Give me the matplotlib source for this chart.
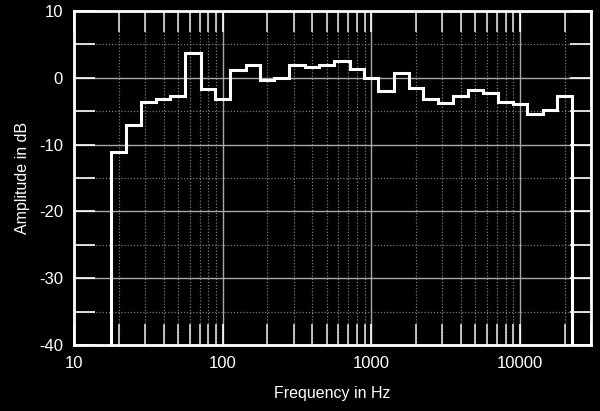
import numpy as np
import matplotlib
matplotlib.use("Agg")
import matplotlib.pyplot as plt
from matplotlib.ticker import LogLocator, FixedLocator, NullFormatter

# 1/3 octave band centres (Hz) and level in dB
band_centres = [20, 25, 31.5, 40, 50, 63, 80, 100, 125, 160, 200, 250, 315, 400,
                500, 630, 800, 1000, 1250, 1600, 2000, 2500, 3150, 4000, 5000,
                6300, 8000, 10000, 12500, 16000, 20000]
levels_db = [-11.1, -7.1, -3.6, -3.2, -2.75, 3.65, -1.75, -3.2, 1.15, 1.85, -0.35,
             -0.1, 1.9, 1.65, 1.85, 2.45, 1.3, 0.0, -1.95, 0.65, -1.6, -3.2,
             -3.75, -2.75, -1.85, -2.25, -3.6, -3.95, -5.45, -4.85, -2.75]
x_ticks = [10, 100, 1000, 10000]
x_ticklabels = ["10", "100", "1000", "10000"]
y_ticks = [-40, -30, -20, -10, 0, 10]

plt.rcParams['font.family'] = ['Liberation Sans', 'DejaVu Sans']
plt.rcParams['axes.unicode_minus'] = False

c = np.array(band_centres, dtype=float)
edges = np.concatenate([c * 2 ** (-1 / 6), [c[-1] * 2 ** (1 / 6)]])

fig = plt.figure(figsize=(6, 4.11), dpi=100, facecolor="black")
ax = fig.add_axes([74 / 600, 1 - 345 / 411, (591 - 74) / 600, (345 - 11) / 411])
ax.set_facecolor("black")

ax.set_xscale("log")
ax.set_xlim(10, 30000)
ax.set_ylim(-40, 10)

# grid
ax.xaxis.set_major_locator(FixedLocator(x_ticks))
ax.xaxis.set_minor_locator(LogLocator(base=10, subs=np.arange(2, 10)))
ax.xaxis.set_minor_formatter(NullFormatter())
ax.set_xticklabels(x_ticklabels)
ax.set_yticks(y_ticks)
ax.yaxis.set_minor_locator(FixedLocator(np.arange(-35, 10, 10)))

ax.grid(which="major", color="#a8a8a8", linestyle="-", linewidth=1.0)
ax.grid(which="minor", color="#7a7a7a", linestyle=(0, (1, 1.5)), linewidth=0.9)

ax.tick_params(which="both", direction="in", colors="white", labelcolor="white",
               labelsize=12, top=True, right=True, length=15, width=1.2, pad=8)
ax.tick_params(axis="x", which="minor", length=15, width=1.2, color="#dddddd")

for s in ax.spines.values():
    s.set_color("white")
    s.set_linewidth(2)

ax.stairs(levels_db, edges, baseline=-40, fill=False, color="white", linewidth=2.2, zorder=5)

ax.set_xlabel("Frequency in Hz", color="white", fontsize=11.5, labelpad=11)
ax.set_ylabel("Amplitude in dB", color="white", fontsize=11.5, labelpad=6)

fig.savefig("out.png", dpi=100, facecolor="black")
